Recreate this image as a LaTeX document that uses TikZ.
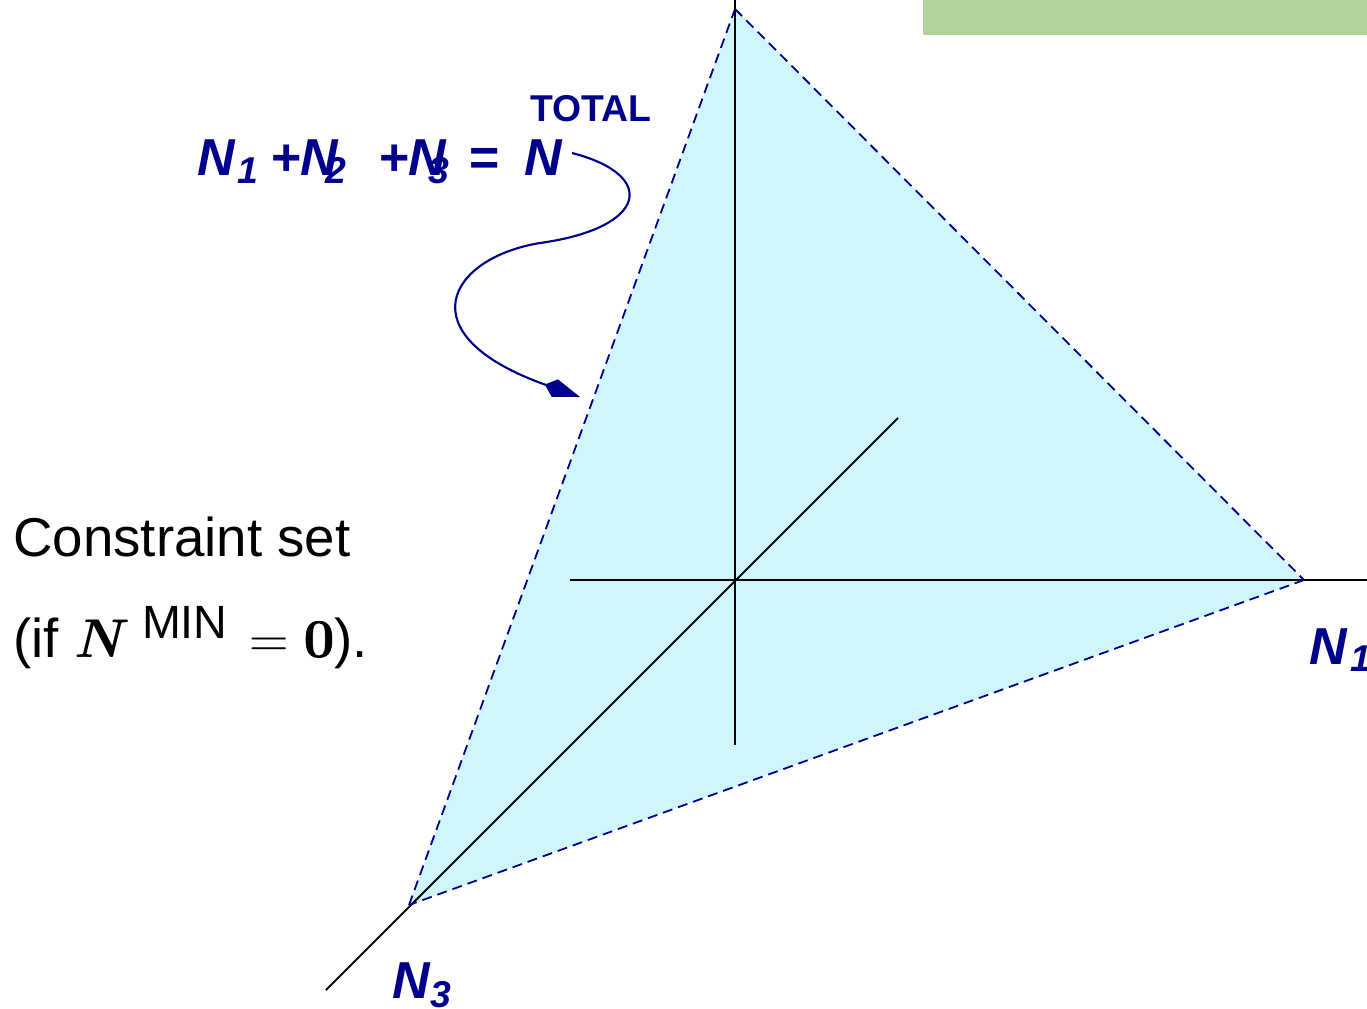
\documentclass[tikz,border=0pt]{standalone}
\usepackage{fontspec}
\setmainfont{Liberation Sans}
\newfontfamily\lmr{Latin Modern Roman}
\newfontfamily\lmrheavy{Latin Modern Roman}[FakeBold=1.2]
\usetikzlibrary{arrows.meta}
\definecolor{navy}{RGB}{0,0,140}
\definecolor{planefill}{RGB}{206,246,251}
\definecolor{bargreen}{RGB}{181,210,158}
\tikzset{
  axisline/.style={black, line width=1.35pt},
  edgeline/.style={navy, line width=1.35pt, dash pattern=on 7.5pt off 4.5pt},
  bigN/.style={navy, anchor=base west, inner sep=0pt, font=\fontsize{39}{44}\selectfont\bfseries\itshape},
  subN/.style={navy, anchor=base west, inner sep=0pt, font=\fontsize{28}{32}\selectfont\bfseries\itshape},
  plaintext/.style={black, anchor=base west, inner sep=0pt, font=\fontsize{41}{49}\selectfont},
}
\begin{document}
\begin{tikzpicture}[x=0.75pt,y=-0.75pt]
\useasboundingbox (0,0) rectangle (1367,1008);
\fill[bargreen] (923,0) rectangle (1367,35);
% vertices
\coordinate (A) at (735,9);
\coordinate (B) at (1304,580);
\coordinate (C) at (409,905);
\coordinate (O) at (735,580);
\fill[planefill] (A) -- (B) -- (C) -- cycle;
% axes
\coordinate (vtop) at (735,0);
\coordinate (vbot) at (735,745);
\coordinate (hleft) at (570,580);
\coordinate (hright) at (1367,580);
\coordinate (dtop) at (898,418);
\coordinate (dbot) at (326,990);
\draw[axisline] (vtop) -- (vbot);
\draw[axisline] (hleft) -- (hright);
\draw[axisline] (dtop) -- (dbot);
% dashed edges
\draw[edgeline] (A) -- (B);
\draw[edgeline] (B) -- (C);
\draw[edgeline] (C) -- (A);
% axis labels
\node[bigN] (lab1) at (1309,664) {N};
\node[subN] (lab1s) at (1350,671) {1};
\node[bigN] (lab3) at (392,998) {N};
\node[subN] (lab3s) at (430,1007) {3};
% equation
\node[bigN] (e1) at (197,175) {N};
\node[subN] (e1s) at (237,183) {1};
\node[bigN] (e2) at (270,175) {+N};
\node[subN] (e2s) at (325,183) {2};
\node[bigN] (e3) at (378,175) {+N};
\node[subN] (e3s) at (428,183) {3};
\node[bigN] (e4) at (468,175) {=};
\node[bigN] (e5) at (524,175) {N};
\node[navy, anchor=base west, inner sep=0pt, font=\fontsize{28}{32}\selectfont\bfseries] (tot) at (530,121) {TOTAL};
% curved arrow
\coordinate (cstart) at (572,153);
\coordinate (cmid) at (540,243);
\coordinate (cend) at (580,397);
\draw[navy, line width=1.6pt, -{Kite[length=28pt,width=14pt,inset=8pt]}]
  (cstart) .. controls (658,175) and (648,228) .. (cmid)
  .. controls (448,258) and (405,335) .. (cend);
% left text
\node[plaintext] (cs) at (13,556) {Constraint set};
\node[plaintext] (cond) at (13,657) {(if {\lmr\bfseries\itshape N}\hspace{0.35em}\raisebox{14pt}{\fontsize{35}{40}\selectfont MIN}\hspace{0.4em}{\lmr =\hspace{0.27em}}{\lmrheavy\bfseries 0}).};
\end{tikzpicture}
\end{document}
